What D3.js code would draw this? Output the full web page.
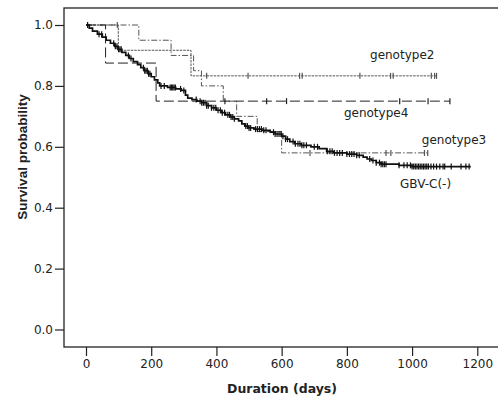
<!DOCTYPE html>
<html>
<head>
<meta charset="utf-8">
<script src="https://cdn.jsdelivr.net/npm/d3@7"></script>
<style>
  body { margin: 0; background: #fff; }
  svg { display: block; }
</style>
</head>
<body>
<div id="chart"></div>
<script>
// Kaplan-Meier curves (days, survival after the step)
const xTicks = [0, 200, 400, 600, 800, 1000, 1200];
const yTicks = [0.0, 0.2, 0.4, 0.6, 0.8, 1.0];

const gbvDays = [0, 10, 20, 35, 50, 62, 75, 88, 98, 110, 122, 133, 145, 158, 168, 178, 190, 200, 210, 220, 226,
                 250, 275, 292, 305, 312, 325, 340, 355, 370, 385, 400, 415, 428, 442, 455, 468, 478, 487, 498,
                 515, 540, 565, 580, 600, 612, 625, 640, 660, 690, 715, 738, 760, 800, 830, 850, 862, 875, 890,
                 905, 960, 1000];
const gbvSurv = [1.0, 0.99, 0.98, 0.97, 0.96, 0.95, 0.94, 0.93, 0.92, 0.91, 0.90, 0.89, 0.88, 0.87, 0.86, 0.85, 0.84,
                 0.83, 0.82, 0.81, 0.80, 0.795, 0.79, 0.785, 0.77, 0.76, 0.755, 0.75, 0.745, 0.735, 0.728, 0.72,
                 0.712, 0.705, 0.698, 0.692, 0.685, 0.675, 0.668, 0.662, 0.658, 0.654, 0.648, 0.642, 0.635, 0.625,
                 0.617, 0.61, 0.605, 0.60, 0.594, 0.585, 0.58, 0.576, 0.572, 0.566, 0.56, 0.555, 0.548, 0.543,
                 0.539, 0.535];
const gbvEnd = 1180;
const gbvCensor = [5, 40, 48, 85, 90, 95, 100, 104, 108, 130, 138, 176, 180, 184, 188, 192, 196, 230, 240, 258, 262,
                   266, 270, 274, 290, 300, 338, 350, 355, 360, 365, 370, 375, 385, 392, 398, 405, 412, 418, 425,
                   435, 440, 445, 450, 455, 490, 495, 500, 505, 520, 526, 532, 538, 545, 552, 575, 580, 586, 592,
                   598, 604, 612, 618, 635, 642, 650, 656, 662, 668, 676, 700, 710, 740, 748, 755, 762, 770, 778,
                   786, 800, 808, 815, 822, 830, 838, 870, 880, 890, 900, 905, 910, 915, 920, 960, 975, 985, 995,
                   1000, 1005, 1010, 1015, 1020, 1025, 1030, 1035, 1040, 1045, 1050, 1058, 1066, 1075, 1085, 1095,
                   1100, 1120, 1150, 1165, 1175];

const g2Days = [0, 99, 322];
const g2Surv = [1.0, 0.917, 0.833];
const g2End = 1075;
const g2Censor = [96, 370, 497, 655, 663, 840, 934, 942, 1059, 1069, 1075];

const g3Days = [0, 162, 261, 330, 354, 421, 462, 525, 600];
const g3Surv = [1.0, 0.95, 0.90, 0.85, 0.80, 0.75, 0.70, 0.65, 0.58];
const g3End = 1054;
const g3Censor = [687, 920, 935, 1038, 1048];

const g4Days = [0, 60, 215];
const g4Surv = [1.0, 0.875, 0.75];
const g4End = 1116;
const g4Censor = [426, 554, 615, 962, 1049, 1116];

const series = [
    { name: "genotype3", days: g3Days, surv: g3Surv, end: g3End, censor: g3Censor, color: "#555", width: 1, dash: "6,2,1.5,2" },
    { name: "genotype2", days: g2Days, surv: g2Surv, end: g2End, censor: g2Censor, color: "#555", width: 1, dash: "2.5,1" },
    { name: "genotype4", days: g4Days, surv: g4Surv, end: g4End, censor: g4Censor, color: "#222", width: 1, dash: "10,4" },
    { name: "GBV-C(-)", days: gbvDays, surv: gbvSurv, end: gbvEnd, censor: gbvCensor, color: "#111", width: 1.7, dash: null }
];

const labels = [
    { text: "genotype2", day: 871, p: 0.888 },
    { text: "genotype4", day: 791, p: 0.699 },
    { text: "genotype3", day: 1030, p: 0.609 },
    { text: "GBV-C(-)", day: 963, p: 0.464 }
];

const W = 498, H = 397;
const plot = { left: 64, top: 8, right: 500, bottom: 347 };

const svg = d3.select("#chart").append("svg")
    .attr("width", W)
    .attr("height", H);

const x = d3.scaleLinear().domain([0, 1200]).range([86, 477.3]);
const y = d3.scaleLinear().domain([0, 1]).range([329.5, 25]);

const tickFont = "'DejaVu Sans', sans-serif";

// frame
svg.append("rect")
    .attr("x", plot.left)
    .attr("y", plot.top)
    .attr("width", plot.right - plot.left)
    .attr("height", plot.bottom - plot.top)
    .attr("fill", "none")
    .attr("stroke", "#222")
    .attr("stroke-width", 1.3);

// y axis
const yAxis = svg.append("g")
    .attr("transform", `translate(${plot.left},0)`)
    .call(d3.axisLeft(y).tickValues(yTicks).tickFormat(d3.format(".1f")).tickSize(9).tickPadding(2));
yAxis.select(".domain").remove();
yAxis.selectAll("line").attr("stroke", "#222").attr("stroke-width", 1.2);
yAxis.selectAll("text")
    .style("font-family", tickFont)
    .style("font-size", "12px")
    .style("fill", "#222");

// x axis
const xAxis = svg.append("g")
    .attr("transform", `translate(0,${plot.bottom})`)
    .call(d3.axisBottom(x).tickValues(xTicks).tickFormat(d3.format("d")).tickSize(9).tickPadding(3));
xAxis.select(".domain").remove();
xAxis.selectAll("line").attr("stroke", "#222").attr("stroke-width", 1.2);
xAxis.selectAll("text")
    .style("font-family", tickFont)
    .style("font-size", "12px")
    .style("fill", "#222");

// axis titles
svg.append("text")
    .attr("x", 282)
    .attr("y", 393)
    .attr("text-anchor", "middle")
    .style("font-family", tickFont)
    .style("font-size", "12.5px")
    .style("font-weight", "bold")
    .style("fill", "#222")
    .text("Duration (days)");

svg.append("text")
    .attr("transform", "translate(27,157) rotate(-90)")
    .attr("text-anchor", "middle")
    .style("font-family", "'Liberation Sans', Arial, sans-serif")
    .style("font-size", "13.5px")
    .style("font-weight", "bold")
    .style("fill", "#222")
    .text("Survival probability");

// curves
const line = d3.line()
    .x(d => x(d[0]))
    .y(d => y(d[1]))
    .curve(d3.curveStepAfter);

const survAt = (s, t) => s.surv[d3.bisectRight(s.days, t) - 1];

series.forEach(s => {
    const pts = s.days.map((d, i) => [d, s.surv[i]]);
    pts.push([s.end, s.surv[s.surv.length - 1]]);

    svg.append("path")
        .datum(pts)
        .attr("d", line)
        .attr("fill", "none")
        .attr("stroke", s.color)
        .attr("stroke-width", s.width)
        .attr("stroke-dasharray", s.dash);

    svg.append("g")
        .selectAll("line")
        .data(s.censor)
        .join("line")
        .attr("x1", d => x(d))
        .attr("x2", d => x(d))
        .attr("y1", d => y(survAt(s, d)) - 3)
        .attr("y2", d => y(survAt(s, d)) + 3)
        .attr("stroke", s.color)
        .attr("stroke-width", 1.2);
});

// curve labels
svg.selectAll("text.label")
    .data(labels)
    .join("text")
    .attr("class", "label")
    .attr("x", d => x(d.day))
    .attr("y", d => y(d.p))
    .style("font-family", tickFont)
    .style("font-size", "12px")
    .style("fill", "#222")
    .text(d => d.text);
</script>
</body>
</html>
